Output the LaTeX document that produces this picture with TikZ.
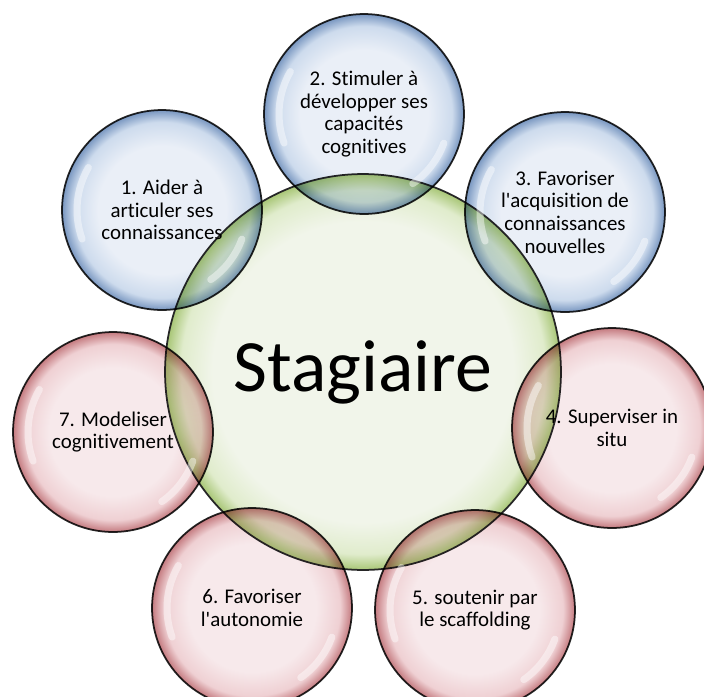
\documentclass[tikz,border=0pt]{standalone}
\usepackage{fontspec}
\setmainfont{Carlito}[Ligatures=NoCommon]
\usetikzlibrary{shapes,positioning,calc}
\definecolor{blueinner}{RGB}{234,239,247}
\definecolor{bluemid}{RGB}{205,219,237}
\definecolor{blueedge}{RGB}{120,150,192}
\definecolor{greeninner}{RGB}{241,245,234}
\definecolor{greenmid}{RGB}{224,236,204}
\definecolor{greenedge}{RGB}{168,198,118}
\definecolor{redinner}{RGB}{247,233,235}
\definecolor{redmid}{RGB}{239,208,211}
\definecolor{rededge}{RGB}{196,122,127}
\pgfdeclareradialshading{blueball}{\pgfpoint{0bp}{0bp}}{color(0bp)=(blueinner); color(16bp)=(blueinner); color(22bp)=(bluemid); color(25bp)=(blueedge); color(50bp)=(blueedge)}
\pgfdeclareradialshading{greenball}{\pgfpoint{0bp}{0bp}}{color(0bp)=(greeninner); color(19bp)=(greeninner); color(23bp)=(greenmid); color(25bp)=(greenedge); color(50bp)=(greenedge)}
\pgfdeclareradialshading{redball}{\pgfpoint{0bp}{0bp}}{color(0bp)=(redinner); color(16bp)=(redinner); color(22bp)=(redmid); color(25bp)=(rededge); color(50bp)=(rededge)}

\begin{document}
\begin{tikzpicture}[x=0.02cm, y=-0.02cm,
		bubble/.style={draw=black!85, line width=1pt, circle, minimum size=4cm, inner sep=0pt,
			blend mode=multiply, align=center, font=\fontsize{11.9}{12.9}\selectfont},
		bluebubble/.style={bubble, shading=blueball},
		redbubble/.style={bubble, shading=redball},
		gloss/.style={white, line width=4pt, opacity=0.45, line cap=round}]
	\clip (0,0) rectangle (704,697);
	\useasboundingbox (0,0) rectangle (704,697);
	
	% Draw the central circle
	\node[draw=black!85, line width=1pt, circle, minimum size=7.92cm, shading=greenball,
		font=\fontsize{42}{48}\selectfont] (stag) at (363,372) {Stagiaire};
	
	% Draw the seven surrounding circles
	\node[bluebubble] (b1) at (162,210) {1. Aider à\\articuler ses\\connaissances};
	\node[bluebubble] (b2) at (364,114) {2. Stimuler à\\développer ses\\capacités\\cognitives};
	\node[bluebubble] (b3) at (565,212) {3. Favoriser\\l\textquotesingle acquisition de\\connaissances\\nouvelles};
	\node[redbubble] (b4) at (612,428) {4. Superviser in\\situ};
	\node[redbubble] (b5) at (475,610) {5. soutenir par\\le scaffolding};
	\node[redbubble] (b6) at (252,608) {6. Favoriser\\l\textquotesingle autonomie};
	\node[redbubble] (b7) at (113,432) {7. Modeliser\\cognitivement};
	
	% Add glossy highlights
	\foreach \n in {b1,b2,b3,b4,b5,b6,b7} {
		\draw[gloss] ([shift={(150:1.7cm)}]\n.center) arc[start angle=150, end angle=200, radius=1.7cm];
		\draw[gloss] ([shift={(-20:1.7cm)}]\n.center) arc[start angle=-20, end angle=-55, radius=1.7cm];
	}
\end{tikzpicture}
\end{document}
